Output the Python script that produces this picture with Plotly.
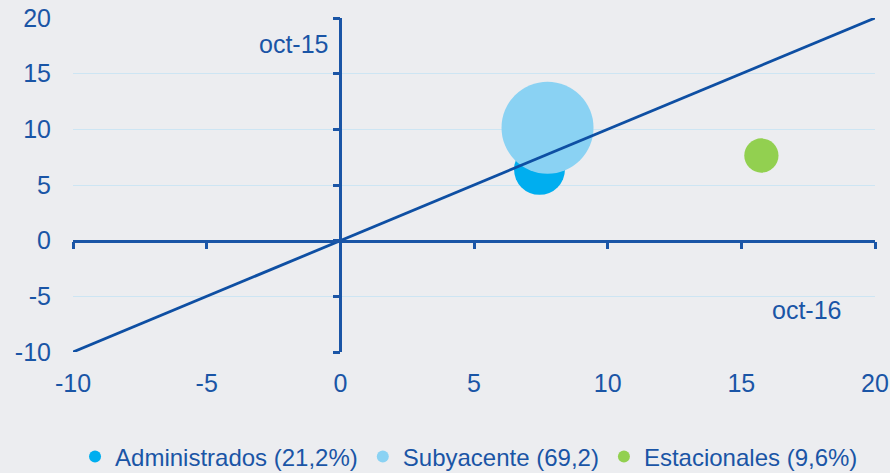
import plotly.graph_objects as go

# datos
series = ["Administrados (21,2%)", "Subyacente (69,2)", "Estacionales (9,6%)"]
oct16 = [7.45, 7.75, 15.75]     # eje x
oct15 = [6.4, 10.15, 7.65]      # eje y
pesos = [21.2, 69.2, 9.6]       # tamaño de burbuja
colores = ["#00AEEF", "#8AD2F3", "#92D050"]
diag = [-10, 20]
ticks = [-10, -5, 0, 5, 10, 15, 20]
etiquetas = ["-10", "-5", "0", "5", "10", "15", "20"]

AZUL = "#1A55A6"
FONDO = "#ECEDF0"

fig = go.Figure()

for nom, x, y, s, c in zip(series, oct16, oct15, pesos, colores):
    fig.add_trace(go.Scatter(x=[x], y=[y], mode="markers", name=nom,
                             marker=dict(size=[s], sizemode="area", sizeref=2 * 69.2 / 92 ** 2,
                                         color=c, line=dict(width=0), opacity=1)))

fig.add_trace(go.Scatter(x=diag, y=diag, mode="lines", showlegend=False,
                         line=dict(color="#0E4FA3", width=2.8), hoverinfo="skip"))

# ejes cruzados en cero
fig.add_trace(go.Scatter(x=[None], y=[None], xaxis="x2", yaxis="y2",
                         showlegend=False, hoverinfo="skip"))

fig.add_annotation(text="oct-15", x=-0.4, y=17.7, xanchor="right", yanchor="middle",
                   showarrow=False, font=dict(size=25, color=AZUL))
fig.add_annotation(text="oct-16", x=18.8, y=-6.2, xanchor="right", yanchor="middle",
                   showarrow=False, font=dict(size=25, color=AZUL))

fig.update_layout(
    width=890, height=473,
    margin=dict(l=73, r=15, t=18, b=121),
    paper_bgcolor=FONDO, plot_bgcolor=FONDO,
    font=dict(family="Arial, Liberation Sans, sans-serif", size=25, color=AZUL),
    xaxis=dict(range=[-10, 20], tickvals=ticks, ticktext=etiquetas, showgrid=False,
               zeroline=False, showline=False, ticks="", ticklabelstandoff=14,
               automargin=False),
    yaxis=dict(range=[-10, 20], tickvals=ticks, ticktext=etiquetas, showgrid=True,
               gridcolor="#CDE5F3", gridwidth=1, zeroline=False, showline=False, ticks="",
               ticklabelstandoff=21, automargin=False),
    xaxis2=dict(range=[-10, 20], tickvals=ticks, overlaying="x", anchor="free",
                position=1 / 3, side="bottom", showline=True, linecolor=AZUL, linewidth=2.5,
                ticks="outside", ticklen=7, tickwidth=2.5, tickcolor=AZUL,
                showticklabels=False, showgrid=False, zeroline=False, automargin=False),
    yaxis2=dict(range=[-10, 20], tickvals=ticks, overlaying="y", anchor="free",
                position=1 / 3, side="left", showline=True, linecolor=AZUL, linewidth=2.5,
                ticks="outside", ticklen=7, tickwidth=2.5, tickcolor=AZUL,
                showticklabels=False, showgrid=False, zeroline=False, automargin=False),
    legend=dict(orientation="h", xref="container", yref="container",
                x=0.527, xanchor="center", y=0.034, yanchor="middle",
                font=dict(size=24, color=AZUL), itemsizing="constant", itemwidth=30,
                bgcolor="rgba(0,0,0,0)"),
)

# sin el margen por defecto del <body>
fig.write_html("out.html", config={"displayModeBar": False},
               post_script="document.body.style.margin='0';"
                           "document.body.style.background='#ECEDF0';")
